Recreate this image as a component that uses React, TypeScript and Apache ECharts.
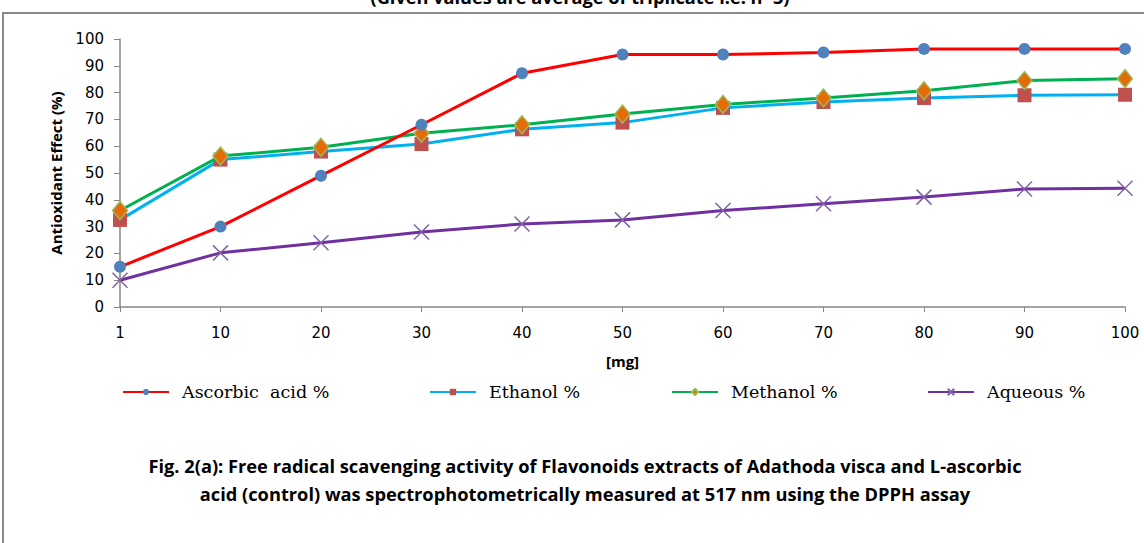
import React, { useEffect, useRef } from "react";
import * as echarts from "echarts";

const categories = ["1", "10", "20", "30", "40", "50", "60", "70", "80", "90", "100"];
const ascorbic = [15, 30, 49, 68, 87.2, 94.2, 94.2, 95, 96.3, 96.3, 96.3];
const ethanol = [32.5, 55, 58, 60.8, 66.3, 68.8, 74.3, 76.5, 78, 79, 79.2];
const methanol = [36, 56.3, 59.6, 64.8, 68, 72, 75.6, 78, 80.7, 84.5, 85.2];
const aqueous = [10, 20.2, 24, 28, 31, 32.5, 36, 38.5, 41, 44, 44.3];
const seriesNames = ["Ascorbic  acid %", "Ethanol %", "Methanol %", "Aqueous %"];

const crossPath = "path://M0,0L10,10M10,0L0,10";

export default function App() {
  const ref = useRef<HTMLDivElement>(null);
  useEffect(() => {
    const chart = echarts.init(ref.current!, null, { renderer: "svg" });
    const axisFont = { fontFamily: "DejaVu Sans", fontSize: 15, color: "#000" };
    const legendBase = (name: string, left: number) => ({
      data: [name],
      left,
      top: 378,
      itemWidth: 46,
      itemHeight: 8,
      itemGap: 14,
      lineStyle: { width: 2 },
      textStyle: {
        fontFamily: "DejaVu Serif",
        fontSize: 17.5,
        color: "#000",
        padding: [0, 0, 0, 8],
      },
      selectedMode: false,
    });
    chart.setOption({
      animation: false,
      backgroundColor: "#fff",
      grid: { left: 120, right: 19, top: 39, bottom: 236 },
      xAxis: {
        type: "category",
        data: categories,
        boundaryGap: false,
        name: "[mg]",
        nameLocation: "middle",
        nameGap: 46,
        nameTextStyle: { fontFamily: "Open Sans", fontSize: 15, fontWeight: "bold", color: "#000" },
        axisLine: { lineStyle: { color: "#868686", width: 1.5 } },
        axisTick: { alignWithLabel: true, length: 5, lineStyle: { color: "#868686" } },
        axisLabel: { ...axisFont, margin: 18 },
        splitLine: { show: false },
      },
      yAxis: {
        type: "value",
        min: 0,
        max: 100,
        interval: 10,
        name: "Antioxidant Effect (%)",
        nameLocation: "middle",
        nameGap: 57,
        nameTextStyle: { fontFamily: "Open Sans", fontSize: 15, fontWeight: "bold", color: "#000" },
        axisLine: { show: true, lineStyle: { color: "#868686", width: 1.5 } },
        axisTick: { show: true, length: 6, lineStyle: { color: "#868686" } },
        axisLabel: { ...axisFont, margin: 16 },
        splitLine: { show: false },
      },
      legend: [
        legendBase(seriesNames[0], 117),
        legendBase(seriesNames[1], 424),
        legendBase(seriesNames[2], 666),
        legendBase(seriesNames[3], 922),
      ],
      series: [
        {
          name: seriesNames[0],
          type: "line",
          data: ascorbic,
          lineStyle: { color: "#FF0000", width: 3 },
          symbol: "circle",
          symbolSize: 12,
          itemStyle: { color: "#4F81BD" },
          z: 5,
        },
        {
          name: seriesNames[1],
          type: "line",
          data: ethanol,
          lineStyle: { color: "#00B0F0", width: 3 },
          symbol: "rect",
          symbolSize: 14,
          itemStyle: { color: "#C0504D" },
          z: 3,
        },
        {
          name: seriesNames[2],
          type: "line",
          data: methanol,
          lineStyle: { color: "#00B050", width: 3 },
          symbol: "diamond",
          symbolSize: [15, 18],
          itemStyle: { color: "#E36C09", borderColor: "#9BBB59", borderWidth: 1.5 },
          z: 4,
        },
        {
          name: seriesNames[3],
          type: "line",
          data: aqueous,
          lineStyle: { color: "#7030A0", width: 3 },
          symbol: crossPath,
          symbolSize: 15,
          itemStyle: { color: "none", borderColor: "#8064A2", borderWidth: 1.5 },
          z: 3,
        },
      ],
      graphic: [
        {
          type: "rect",
          shape: { x: 3, y: 13, width: 1160, height: 560 },
          style: { fill: "none", stroke: "#8a8a8a", lineWidth: 2 },
          z: -10,
        },
        {
          type: "text",
          x: 580,
          y: 6,
          scaleX: 1.07,
          style: {
            text: "(Given values are average of triplicate i.e. n=3)",
            fontFamily: "Open Sans",
            fontSize: 17,
            fontWeight: "bold",
            fill: "#000",
            align: "center",
            verticalAlign: "bottom",
          },
        },
        {
          type: "text",
          x: 585,
          y: 466,
          scaleX: 1.075,
          style: {
            text: "Fig. 2(a): Free radical scavenging activity of Flavonoids extracts of Adathoda visca and L-ascorbic",
            fontFamily: "Open Sans",
            fontSize: 17,
            fontWeight: "bold",
            fill: "#000",
            align: "center",
            verticalAlign: "middle",
          },
        },
        {
          type: "text",
          x: 585,
          y: 494,
          scaleX: 1.075,
          style: {
            text: "acid (control) was spectrophotometrically measured at 517 nm using the DPPH assay",
            fontFamily: "Open Sans",
            fontSize: 17,
            fontWeight: "bold",
            fill: "#000",
            align: "center",
            verticalAlign: "middle",
          },
        },
      ],
    });
    return () => chart.dispose();
  }, []);
  return (
    <div
      ref={ref}
      style={{ position: "absolute", left: 0, top: 0, width: 1144, height: 543 }}
    />
  );
}
